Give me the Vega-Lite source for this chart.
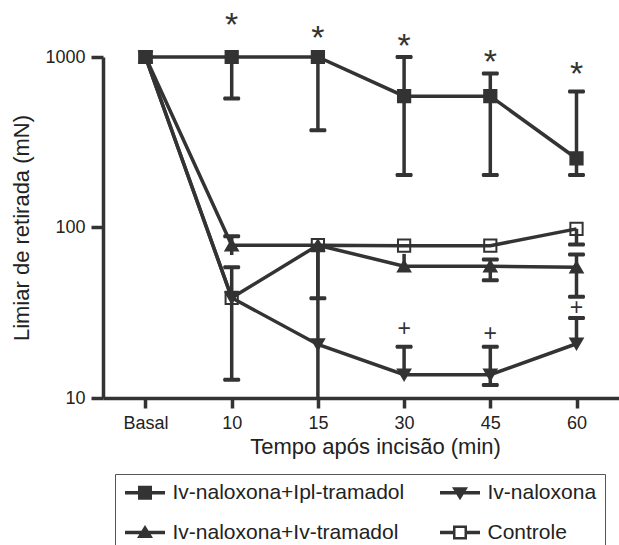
{
  "$schema": "https://vega.github.io/schema/vega-lite/v6.json",
  "autosize": "none",
  "width": 516,
  "height": 341,
  "padding": {"left": 103, "top": 57, "right": 0, "bottom": 147},
  "background": "white",
  "config": {
    "font": "Liberation Sans",
    "view": {"stroke": null},
    "axis": {
      "domainColor": "#333333",
      "domainWidth": 3.5,
      "tickColor": "#333333",
      "tickWidth": 3.5,
      "labelColor": "#222222",
      "titleColor": "#222222",
      "labelFont": "Liberation Sans",
      "titleFont": "Liberation Sans",
      "labelFontSize": 18,
      "titleFontSize": 22,
      "titleFontWeight": "normal",
      "grid": false
    }
  },
  "datasets": {
    "series": [
      {"group": "Iv-naloxona", "time": "Basal", "value": 1000},
      {"group": "Iv-naloxona", "time": "10", "value": 38.7},
      {"group": "Iv-naloxona", "time": "15", "value": 20.6},
      {"group": "Iv-naloxona", "time": "30", "value": 13.7},
      {"group": "Iv-naloxona", "time": "45", "value": 13.7},
      {"group": "Iv-naloxona", "time": "60", "value": 20.8},
      {"group": "Iv-naloxona+Iv-tramadol", "time": "Basal", "value": 1000},
      {"group": "Iv-naloxona+Iv-tramadol", "time": "10", "value": 78.7},
      {"group": "Iv-naloxona+Iv-tramadol", "time": "15", "value": 78.7},
      {"group": "Iv-naloxona+Iv-tramadol", "time": "30", "value": 59.3},
      {"group": "Iv-naloxona+Iv-tramadol", "time": "45", "value": 59.3},
      {"group": "Iv-naloxona+Iv-tramadol", "time": "60", "value": 58.5},
      {"group": "Controle", "time": "Basal", "value": 1000},
      {"group": "Controle", "time": "10", "value": 38.7},
      {"group": "Controle", "time": "15", "value": 78.7},
      {"group": "Controle", "time": "30", "value": 78.2},
      {"group": "Controle", "time": "45", "value": 78.2},
      {"group": "Controle", "time": "60", "value": 98.2},
      {"group": "Iv-naloxona+Ipl-tramadol", "time": "Basal", "value": 1000},
      {"group": "Iv-naloxona+Ipl-tramadol", "time": "10", "value": 1000},
      {"group": "Iv-naloxona+Ipl-tramadol", "time": "15", "value": 1000},
      {"group": "Iv-naloxona+Ipl-tramadol", "time": "30", "value": 589},
      {"group": "Iv-naloxona+Ipl-tramadol", "time": "45", "value": 589},
      {"group": "Iv-naloxona+Ipl-tramadol", "time": "60", "value": 254}
    ],
    "errs": [
      {"group": "Iv-naloxona+Ipl-tramadol", "time": "10", "value": 571, "hi": 1000},
      {"group": "Iv-naloxona+Ipl-tramadol", "time": "15", "value": 372, "hi": 1000},
      {"group": "Iv-naloxona+Ipl-tramadol", "time": "30", "value": 203, "hi": 1000},
      {"group": "Iv-naloxona+Ipl-tramadol", "time": "45", "value": 203, "hi": 800},
      {"group": "Iv-naloxona+Ipl-tramadol", "time": "60", "value": 203, "hi": 628},
      {"group": "Iv-naloxona+Iv-tramadol", "time": "10", "value": 69, "hi": 89},
      {"group": "Iv-naloxona+Iv-tramadol", "time": "15", "value": 10, "hi": 78.7},
      {"group": "Iv-naloxona+Iv-tramadol", "time": "30", "value": 59.3, "hi": 70},
      {"group": "Iv-naloxona+Iv-tramadol", "time": "45", "value": 49, "hi": 65},
      {"group": "Iv-naloxona+Iv-tramadol", "time": "60", "value": 39.2, "hi": 69.5},
      {"group": "Controle", "time": "10", "value": 12.8, "hi": 58.5},
      {"group": "Controle", "time": "15", "value": 38.5, "hi": 78.7},
      {"group": "Controle", "time": "60", "value": 79.5, "hi": 98.2},
      {"group": "Iv-naloxona", "time": "30", "value": 13.7, "hi": 20},
      {"group": "Iv-naloxona", "time": "45", "value": 11.9, "hi": 20},
      {"group": "Iv-naloxona", "time": "60", "value": 20.8, "hi": 29.5}
    ],
    "caps": [
      {"time": "10", "value": 571},
      {"time": "10", "value": 89},
      {"time": "10", "value": 58.5},
      {"time": "10", "value": 12.8},
      {"time": "15", "value": 372},
      {"time": "15", "value": 38.5},
      {"time": "30", "value": 1000},
      {"time": "30", "value": 203},
      {"time": "30", "value": 20},
      {"time": "45", "value": 800},
      {"time": "45", "value": 203},
      {"time": "45", "value": 65},
      {"time": "45", "value": 49},
      {"time": "45", "value": 20},
      {"time": "45", "value": 11.9},
      {"time": "60", "value": 628},
      {"time": "60", "value": 203},
      {"time": "60", "value": 79.5},
      {"time": "60", "value": 69.5},
      {"time": "60", "value": 39.2},
      {"time": "60", "value": 29.5}
    ],
    "stars": [
      {"time": "10", "value": 1718, "label": "*"},
      {"time": "15", "value": 1449, "label": "*"},
      {"time": "30", "value": 1301, "label": "*"},
      {"time": "45", "value": 1048, "label": "*"},
      {"time": "60", "value": 880, "label": "*"}
    ],
    "plus": [
      {"time": "30", "value": 25.8, "label": "+"},
      {"time": "45", "value": 24.1, "label": "+"},
      {"time": "60", "value": 34.3, "label": "+"}
    ],
    "empty": []
  },
  "encoding": {
    "x": {
      "field": "time",
      "type": "ordinal",
      "sort": ["Basal", "10", "15", "30", "45", "60"],
      "scale": {"type": "point", "padding": 0.493},
      "axis": {"labelAngle": 0, "tickSize": 10, "labelPadding": 6, "titlePadding": 4, "titleX": 272},
      "title": "Tempo após incisão (min)"
    },
    "y": {
      "field": "value",
      "type": "quantitative",
      "scale": {"type": "log", "domain": [10, 1000]},
      "axis": {"values": [10, 100, 1000], "format": "d", "tickSize": 12, "labelPadding": 6, "titlePadding": 11},
      "title": "Limiar de retirada (mN)"
    }
  },
  "layer": [
    {
      "data": {"name": "series"},
      "mark": {"type": "line", "color": "#333333", "strokeWidth": 3.5},
      "encoding": {
        "detail": {"field": "group", "type": "nominal"},
        "order": {"value": null}
      }
    },
    {
      "data": {"name": "errs"},
      "mark": {"type": "rule", "color": "#333333", "strokeWidth": 3.5},
      "encoding": {"y2": {"field": "hi"}}
    },
    {
      "data": {"name": "caps"},
      "mark": {"type": "tick", "color": "#333333", "size": 17, "thickness": 4, "orient": "horizontal", "opacity": 1, "cornerRadius": 1.5}
    },
    {
      "data": {"name": "series"},
      "mark": {"type": "point", "filled": true, "opacity": 1, "size": 150, "stroke": "#333333", "strokeWidth": 2},
      "encoding": {
        "shape": {
          "field": "group",
          "type": "nominal",
          "scale": {
            "domain": ["Iv-naloxona+Ipl-tramadol", "Iv-naloxona+Iv-tramadol", "Iv-naloxona", "Controle"],
            "range": ["square", "triangle-up", "triangle-down", "square"]
          },
          "legend": null
        },
        "fill": {
          "field": "group",
          "type": "nominal",
          "scale": {
            "domain": ["Iv-naloxona+Ipl-tramadol", "Iv-naloxona+Iv-tramadol", "Iv-naloxona", "Controle"],
            "range": ["#333333", "#333333", "#333333", "transparent"]
          },
          "legend": null
        }
      }
    },
    {
      "data": {"name": "empty"},
      "mark": {"type": "point", "filled": true, "opacity": 1, "fill": "#333333", "strokeWidth": 0, "size": 100},
      "encoding": {
        "shape": {
          "field": "group",
          "type": "nominal",
          "scale": {
            "domain": ["Iv-naloxona+Ipl-tramadol", "Iv-naloxona+Iv-tramadol", "Iv-naloxona", "Controle"],
            "range": [
              "M-4,-0.36H4V0.36H-4Z M-1.4,-1.4H1.4V1.4H-1.4Z",
              "M-4,-0.36H4V0.36H-4Z M0,-1.5L1.6,1.1H-1.6Z",
              "M-4,-0.36H4V0.36H-4Z M-1.6,-1.1H1.6L0,1.5Z",
              "M-4,-0.36H-1.4V0.36H-4Z M1.4,-0.36H4V0.36H1.4Z M-1.4,-1.4H1.4V1.4H-1.4Z M-0.9,-0.9V0.9H0.9V-0.9Z"
            ]
          },
          "legend": {
            "orient": "none",
            "legendX": 12,
            "legendY": 417,
            "columns": 2,
            "title": null,
            "symbolSize": 100,
            "symbolFillColor": "#333333",
            "symbolStrokeColor": "#333333",
            "symbolStrokeWidth": 0,
            "symbolOpacity": 1,
            "symbolOffset": 11.5,
            "labelOffset": 17,
            "labelFontSize": 21,
            "labelFont": "Liberation Sans",
            "labelColor": "#222222",
            "labelLimit": 400,
            "rowPadding": 18,
            "columnPadding": 33,
            "padding": 8,
            "strokeColor": "#555555",
            "fillColor": "white"
          }
        }
      }
    },
    {
      "data": {"name": "stars"},
      "mark": {"type": "text", "fontSize": 34, "dy": 9, "baseline": "middle", "color": "#333333", "font": "Liberation Sans"},
      "encoding": {"text": {"field": "label"}}
    },
    {
      "data": {"name": "plus"},
      "mark": {"type": "text", "fontSize": 23, "dy": 1, "baseline": "middle", "color": "#333333", "font": "Liberation Sans"},
      "encoding": {"text": {"field": "label"}}
    }
  ],
  "resolve": {"scale": {"shape": "independent", "fill": "independent"}, "legend": {"shape": "independent"}}
}
